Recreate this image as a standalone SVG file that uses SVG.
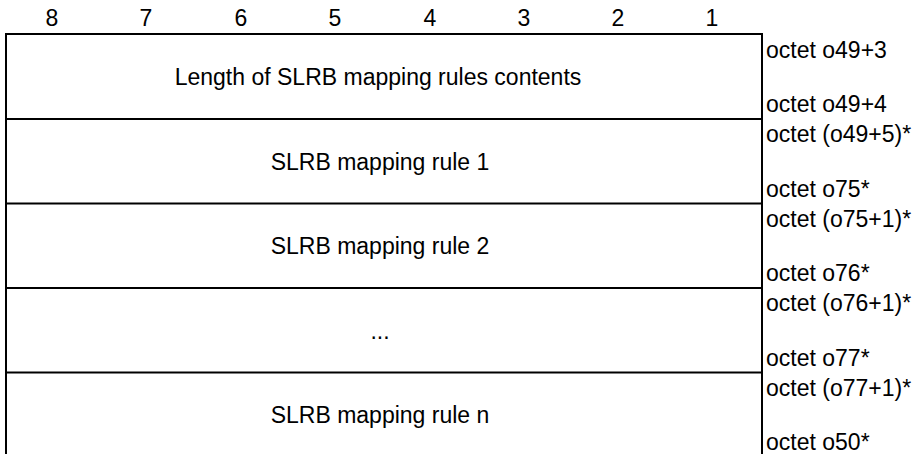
<svg xmlns="http://www.w3.org/2000/svg" width="917" height="454" viewBox="0 0 917 454">
<style>
text{font-family:"Liberation Sans",Arial,sans-serif;font-size:23px;fill:#000}
.c{text-anchor:middle}
.ln{stroke:#000;stroke-width:2;fill:none}
</style>
<rect width="917" height="454" fill="#fff"/>
<g id="header">
<text class="c" x="52" y="26">8</text>
<text class="c" x="146" y="26">7</text>
<text class="c" x="241" y="26">6</text>
<text class="c" x="335" y="26">5</text>
<text class="c" x="430" y="26">4</text>
<text class="c" x="524" y="26">3</text>
<text class="c" x="618" y="26">2</text>
<text class="c" x="712" y="26">1</text>
</g>
<g id="frame">
<rect class="ln" x="6" y="34" width="756" height="424"/>
<line class="ln" x1="6" y1="119" x2="762" y2="119"/>
<line class="ln" x1="6" y1="203.5" x2="762" y2="203.5"/>
<line class="ln" x1="6" y1="288" x2="762" y2="288"/>
<line class="ln" x1="6" y1="372.5" x2="762" y2="372.5"/>
</g>
<g id="row1">
<text class="c" x="378" y="85">Length of SLRB mapping rules contents</text>
<text x="766" y="58">octet o49+3</text>
<text x="766" y="112">octet o49+4</text>
</g>
<g id="row2">
<text class="c" x="380" y="170">SLRB mapping rule 1</text>
<text x="766" y="142">octet (o49+5)*</text>
<text x="766" y="197">octet o75*</text>
</g>
<g id="row3">
<text class="c" x="380" y="254">SLRB mapping rule 2</text>
<text x="766" y="227">octet (o75+1)*</text>
<text x="766" y="281">octet o76*</text>
</g>
<g id="row4">
<text class="c" x="380" y="339">...</text>
<text x="766" y="311">octet (o76+1)*</text>
<text x="766" y="366">octet o77*</text>
</g>
<g id="row5">
<text class="c" x="380" y="423">SLRB mapping rule n</text>
<text x="766" y="396">octet (o77+1)*</text>
<text x="766" y="450">octet o50*</text>
</g>
</svg>
